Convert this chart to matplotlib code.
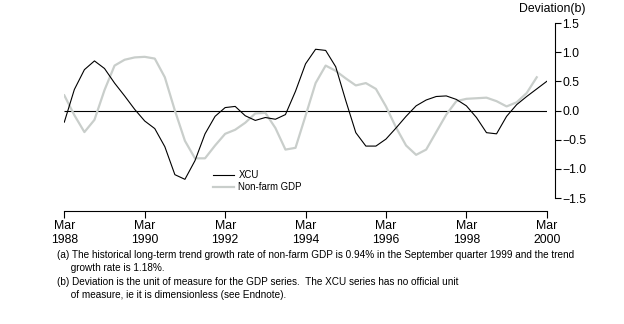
import numpy as np
import matplotlib
matplotlib.use("Agg")
import matplotlib.pyplot as plt

plt.rcParams["font.family"] = ["Liberation Sans Narrow", "Liberation Sans", "DejaVu Sans"]

# 四半期データ（Mar 1988 起点）
xcu = [-0.20, 0.36, 0.70, 0.85, 0.72, 0.47, 0.25, 0.02,
       -0.18, -0.31, -0.62, -1.10, -1.18, -0.86, -0.40, -0.10,
       0.05, 0.07, -0.09, -0.17, -0.12, -0.15, -0.07, 0.33,
       0.80, 1.05, 1.03, 0.75, 0.17, -0.38, -0.61, -0.61,
       -0.49, -0.30, -0.10, 0.08, 0.18, 0.24, 0.25, 0.19,
       0.08, -0.12, -0.38, -0.40, -0.10, 0.10, 0.24, 0.37,
       0.50]
gdp = [0.26, -0.08, -0.37, -0.16, 0.35, 0.77, 0.87, 0.91,
       0.92, 0.89, 0.57, 0.00, -0.52, -0.82, -0.82, -0.60,
       -0.40, -0.33, -0.21, -0.05, -0.04, -0.30, -0.67, -0.64,
       -0.09, 0.47, 0.77, 0.68, 0.55, 0.43, 0.47, 0.37,
       0.07, -0.29, -0.60, -0.76, -0.67, -0.37, -0.07, 0.16,
       0.20, 0.21, 0.22, 0.16, 0.07, 0.14, 0.30, 0.57]
start_year = 1988
xticks = [1988, 1990, 1992, 1994, 1996, 1998, 2000]
xticklabels = [f"Mar\n{y}" for y in xticks]
yticks = [-1.5, -1.0, -0.5, 0.0, 0.5, 1.0, 1.5]
yticklabels = ["\u22121.5", "\u22121.0", "\u22120.5", "0.0", "0.5", "1.0", "1.5"]
notes = ["(a) The historical long-term trend growth rate of non-farm GDP is 0.94% in the September quarter 1999 and the trend",
         "     growth rate is 1.18%.",
         "(b) Deviation is the unit of measure for the GDP series.  The XCU series has no official unit",
         "     of measure, ie it is dimensionless (see Endnote)."]

W, H = 624, 324
fig = plt.figure(figsize=(W / 100, H / 100), dpi=100)
ax = fig.add_axes([64.3 / W, 1 - 198 / H, (546.8 - 64.3) / W, 175 / H])

tx = start_year + np.arange(len(xcu)) / 4
tg = start_year + np.arange(len(gdp)) / 4
ax.plot(tx, xcu, color="black", lw=0.8, label="XCU", zorder=3)
ax.plot(tg, gdp, color="#c9cecb", lw=1.6, label="Non-farm GDP", zorder=2)
ax.hlines(0, 1988, 2000, color="black", lw=0.8, zorder=1)

ax.set_xlim(1988, 2000)
ax.set_ylim(-1.5, 1.5)
for s in ["left", "top"]:
    ax.spines[s].set_visible(False)
ax.spines["bottom"].set_position(("outward", 9))
ax.spines["right"].set_position(("outward", 6))
ax.spines["bottom"].set_linewidth(0.8)
ax.spines["right"].set_linewidth(0.8)

ax.set_xticks(xticks)
ax.set_xticklabels(xticklabels, fontsize=8.8, linespacing=1.25)
ax.yaxis.tick_right()
ax.set_yticks(yticks)
ax.set_yticklabels(yticklabels, fontsize=8.8)
ax.tick_params(axis="x", length=5, width=0.8, pad=1.5)
ax.tick_params(axis="y", length=4, width=0.8, pad=1)

ax.legend(loc="upper left", bbox_to_anchor=(213 / W, 1 - 170 / H),
          bbox_transform=fig.transFigure, frameon=False, fontsize=6.9,
          borderpad=0, borderaxespad=0, handlelength=2.2,
          handletextpad=0.45, labelspacing=0.25)

fig.text(585 / W, 1 - 9 / H, "Deviation(b)", ha="right", va="center", fontsize=8.8)
for line, y in zip(notes, [255, 268, 282, 295]):
    fig.text(57 / W, 1 - y / H, line, ha="left", va="center", fontsize=7.2)

fig.savefig("out.png", dpi=100)
